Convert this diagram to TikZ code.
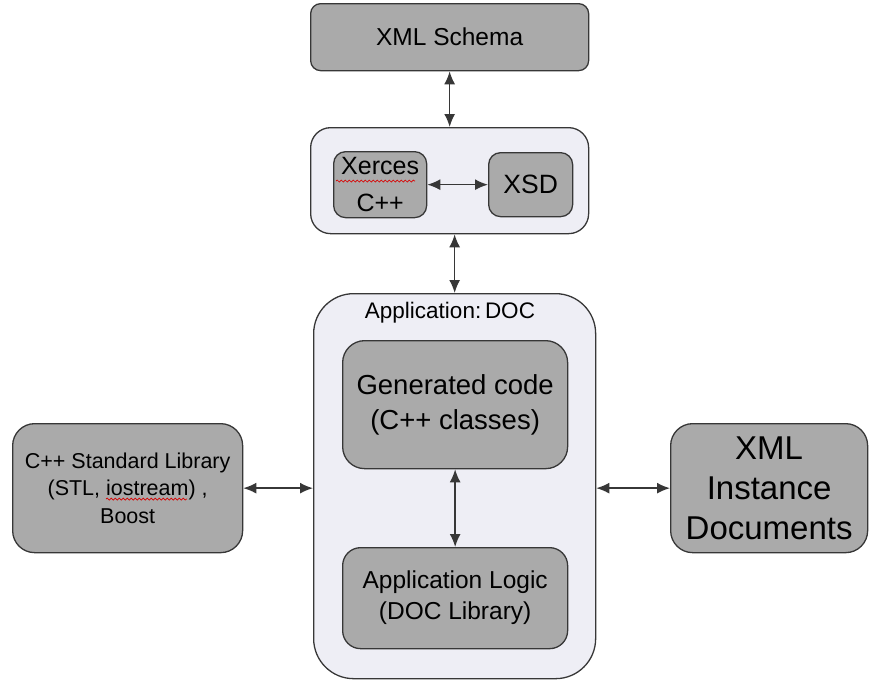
\documentclass[tikz,border=0pt]{standalone}
\usepackage{fontspec}
\setmainfont{Liberation Sans}
\usepackage{xcolor}
\usetikzlibrary{arrows.meta,decorations.pathmorphing}

\definecolor{boxgray}{RGB}{170,170,170}
\definecolor{panelfill}{RGB}{238,238,245}
\definecolor{edgegray}{RGB}{55,55,55}

\tikzset{
  block/.style={draw=edgegray, line width=1.3pt, fill=boxgray, anchor=north west,
    inner sep=0pt, align=center, rounded corners=#1},
  block/.default=12pt,
  panel/.style={block=#1, fill=panelfill},
  link/.style={draw=edgegray, line width=1.6pt, {Latex[length=13pt,width=11pt]}-{Latex[length=13pt,width=11pt]}},
  typo/.style={draw=red!85!black, line width=0.7pt, decorate,
    decoration={snake, amplitude=1pt, segment length=4pt}},
  fs/.style 2 args={font=\fontsize{#1}{#2}\selectfont}
}

\begin{document}
\begin{tikzpicture}[x=1pt, y=-1pt]
  \useasboundingbox (0,0) rectangle (871,681);

  \node[block=10pt, minimum width=278pt, minimum height=67pt, fs={24.5}{30}] (schema) at (310,3) {XML Schema};

  \node[panel=20pt, minimum width=278pt, minimum height=106pt] (parser) at (310,127) {};
  \node[block=12pt, minimum width=93pt, minimum height=66pt, fs={25}{37}] (xerces) at (333,151)
    {Xerces\\C++};
  \node[block=12pt, minimum width=84pt, minimum height=64pt, fs={26.5}{30}] (xsd) at (488,152) {XSD};

  \node[panel=40pt, minimum width=282pt, minimum height=385pt] (app) at (313,293) {};
  \node[fs={22.5}{26}, anchor=center] (applabel) at (450,313) {Application:\,DOC};
  \node[block=22pt, minimum width=225pt, minimum height=128pt, fs={27.5}{35}] (gen) at (342,340)
    {Generated code\\(C++ classes)};
  \node[block=18pt, minimum width=225pt, minimum height=101pt, fs={24.5}{31}] (logic) at (342,547)
    {Application Logic\\(DOC Library)};

  \node[block=22pt, minimum width=230pt, minimum height=129pt, fs={21.5}{27.5}] (stdlib) at (12,423)
    {C++ Standard Library\\(STL, iostream) ,\\Boost};
  \node[block=22pt, minimum width=197pt, minimum height=129pt, fs={33}{40}] (inst) at (670,423)
    {XML\\Instance\\Documents};

  \draw[link] (schema.south) -- (parser.north);
  \draw[link] (xerces.east) -- (xsd.west);
  \draw[link] (app.north) -- (app.north |- parser.south);
  \draw[link] (gen.south) -- (logic.north);
  \draw[link] (stdlib.east) -- (stdlib.east -| app.west);
  \draw[link] (inst.west) -- (inst.west -| app.east);

  % spell-check marks
  \draw[typo] (336,181) -- (415,181);
  \draw[typo] (106,499) -- (187,499);
\end{tikzpicture}
\end{document}
